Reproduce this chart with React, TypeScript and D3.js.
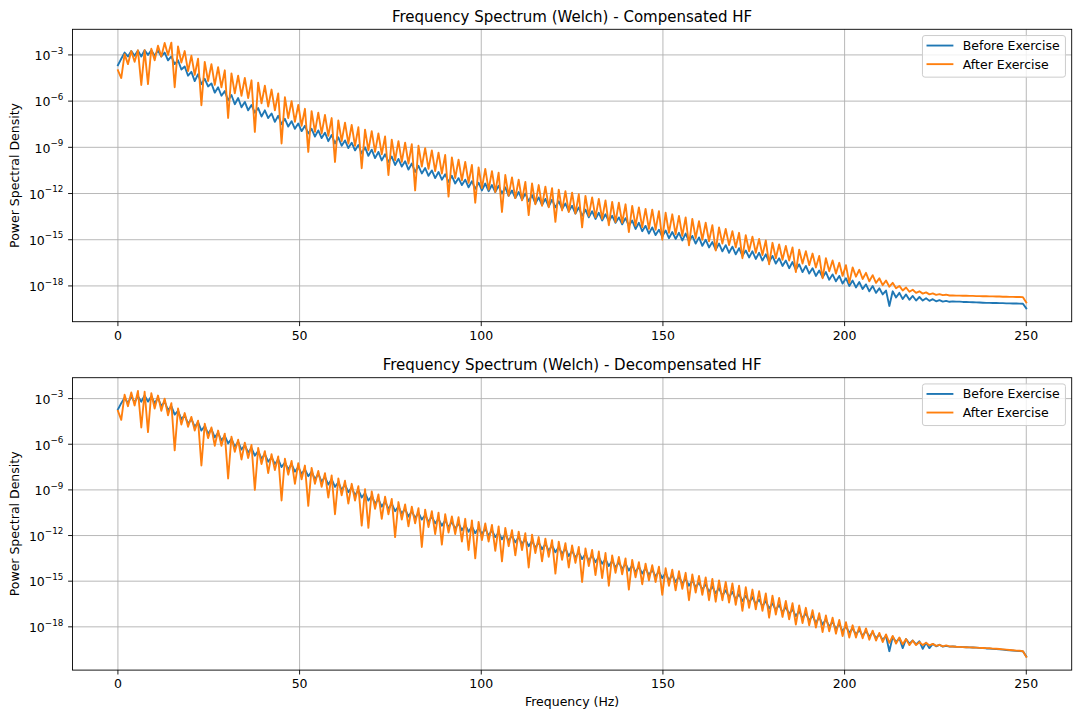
import React, { useEffect } from "react";
import * as d3 from "d3";

// ---------- DATA (log10 of PSD, evenly spaced Welch bins from 0 to 250 Hz) ----------
const FREQ_MAX = 250;

const compBeforeLog10 = [
  -3.67, -3.25, -2.85, -3.1, -2.75, -3.05, -2.72, -3.1, -2.7, -3.0,
  -2.7, -3.05, -2.72, -3.1, -2.85, -3.35, -3.1, -3.6, -3.35, -3.95,
  -3.75, -4.35, -4.1, -4.7, -4.25, -4.9, -4.55, -5.05, -4.85, -5.45,
  -5.1, -5.65, -5.35, -5.95, -5.6, -6.2, -5.8, -6.4, -6.05, -6.6,
  -6.25, -6.75, -6.45, -7.0, -6.6, -7.1, -6.8, -7.35, -6.95, -7.5,
  -7.15, -7.65, -7.3, -7.8, -7.45, -7.95, -7.6, -8.1, -7.8, -8.3,
  -7.9, -8.4, -8.05, -8.6, -8.2, -8.75, -8.35, -8.9, -8.55, -9.05,
  -8.7, -9.2, -8.85, -9.4, -9.0, -9.55, -9.15, -9.7, -9.3, -9.85,
  -9.45, -9.95, -9.6, -10.15, -9.75, -10.25, -9.9, -10.45, -10.05, -10.6,
  -10.2, -10.7, -10.35, -10.85, -10.5, -11.0, -10.6, -11.1, -10.75, -11.25,
  -10.85, -11.35, -11.0, -11.45, -11.1, -11.6, -11.2, -11.7, -11.3, -11.8,
  -11.35, -11.85, -11.45, -11.9, -11.5, -12.0, -11.6, -12.15, -11.8, -12.3,
  -11.9, -12.4, -12.0, -12.5, -12.1, -12.65, -12.25, -12.75, -12.35, -12.85,
  -12.4, -12.9, -12.5, -13.0, -12.65, -13.15, -12.8, -13.3, -12.9, -13.45,
  -13.05, -13.55, -13.15, -13.65, -13.25, -13.75, -13.35, -13.8, -13.45, -13.9,
  -13.55, -14.0, -13.6, -14.1, -13.75, -14.3, -13.9, -14.45, -14.1, -14.6,
  -14.2, -14.7, -14.35, -14.8, -14.4, -14.9, -14.5, -14.95, -14.55, -15.05,
  -14.6, -15.1, -14.75, -15.25, -14.85, -15.4, -15.0, -15.5, -15.15, -15.65,
  -15.25, -15.75, -15.35, -15.85, -15.45, -15.95, -15.55, -16.05, -15.7, -16.15,
  -15.75, -16.25, -15.85, -16.35, -15.95, -16.45, -16.05, -16.55, -16.2, -16.7,
  -16.35, -16.85, -16.45, -16.95, -16.6, -17.1, -16.7, -17.2, -16.85, -17.35,
  -17.0, -17.45, -17.1, -17.6, -17.25, -17.7, -17.35, -17.85, -17.5, -18.0,
  -17.65, -18.1, -17.75, -18.2, -17.9, -18.35, -18.0, -18.45, -18.15, -18.55,
  -18.3, -19.3, -18.35, -18.75, -18.45, -18.85, -18.55, -18.9, -18.65, -18.95,
  -18.72, -18.95, -18.8, -18.97, -18.86, -19.0, -18.92, -19.02, -18.97, -19.03,
  -19.0, -19.02, -19.02, -19.04, -19.04, -19.05, -19.06, -19.07, -19.08, -19.09,
  -19.1, -19.1, -19.11, -19.11, -19.12, -19.12, -19.13, -19.13, -19.14, -19.14,
  -19.15, -19.16, -19.46,
];

const compAfterLog10 = [
  -4.0, -4.5, -2.95, -3.6, -2.75, -3.45, -2.7, -4.95, -2.7, -4.9,
  -2.6, -3.35, -2.4, -3.1, -2.22, -3.0, -2.2, -5.1, -2.45, -3.5,
  -2.75, -4.05, -3.05, -4.3, -3.25, -6.27, -3.45, -4.7, -3.6, -4.95,
  -3.8, -5.1, -4.0, -7.1, -4.2, -5.5, -4.35, -5.65, -4.5, -5.8,
  -4.65, -8.0, -4.8, -6.15, -5.0, -6.35, -5.25, -6.6, -5.5, -8.75,
  -5.75, -7.1, -6.0, -7.35, -6.25, -7.6, -6.5, -9.3, -6.65, -8.0,
  -6.75, -8.1, -6.9, -8.25, -7.1, -9.95, -7.25, -8.6, -7.4, -8.75,
  -7.55, -8.9, -7.7, -10.36, -7.85, -9.2, -7.95, -9.3, -8.1, -9.45,
  -8.3, -10.8, -8.5, -9.85, -8.6, -9.95, -8.7, -10.05, -8.8, -11.8,
  -8.9, -10.25, -9.05, -10.4, -9.2, -10.55, -9.35, -10.7, -9.5, -12.2,
  -9.65, -11.0, -9.8, -11.15, -9.95, -11.3, -10.15, -12.6, -10.3, -11.65,
  -10.4, -11.75, -10.55, -11.9, -10.65, -13.2, -10.8, -12.15, -10.95, -12.3,
  -11.1, -12.45, -11.25, -13.4, -11.35, -12.7, -11.45, -12.8, -11.55, -12.9,
  -11.65, -13.84, -11.75, -13.1, -11.85, -13.2, -11.95, -13.3, -12.05, -14.2,
  -12.15, -13.45, -12.25, -13.55, -12.35, -13.65, -12.45, -14.06, -12.55, -13.85,
  -12.6, -13.9, -12.7, -14.5, -12.8, -14.1, -12.9, -14.2, -13.0, -14.3,
  -13.05, -14.35, -13.15, -15.0, -13.25, -14.55, -13.35, -14.65, -13.45, -14.75,
  -13.55, -15.36, -13.65, -14.9, -13.8, -15.0, -13.9, -15.1, -14.05, -15.7,
  -14.2, -15.25, -14.3, -15.35, -14.45, -15.5, -14.55, -16.2, -14.7, -15.75,
  -14.8, -15.85, -14.95, -16.0, -15.05, -16.6, -15.2, -16.2, -15.3, -16.3,
  -15.4, -16.35, -15.5, -17.1, -15.65, -16.55, -15.75, -16.65, -15.9, -16.8,
  -16.05, -17.5, -16.2, -17.05, -16.35, -17.2, -16.5, -17.35, -16.65, -17.8,
  -16.8, -17.4, -16.95, -17.55, -17.15, -17.7, -17.3, -17.8, -17.5, -17.95,
  -17.65, -18.05, -17.8, -18.15, -18.0, -18.3, -18.1, -18.38, -18.25, -18.45,
  -18.35, -18.5, -18.42, -18.55, -18.48, -18.58, -18.53, -18.6, -18.57, -18.62,
  -18.61, -18.63, -18.63, -18.64, -18.64, -18.65, -18.65, -18.66, -18.66, -18.67,
  -18.67, -18.68, -18.68, -18.69, -18.69, -18.7, -18.7, -18.71, -18.71, -18.72,
  -18.72, -18.73, -19.07,
];

const decompBeforeLog10 = [
  -3.72, -3.3, -2.95, -3.3, -2.85, -3.25, -2.85, -3.2, -2.8, -3.2,
  -2.85, -3.3, -2.95, -3.5, -3.2, -3.75, -3.5, -4.05, -3.8, -4.35,
  -4.1, -4.65, -4.35, -4.85, -4.55, -5.1, -4.8, -5.3, -5.0, -5.55,
  -5.25, -5.75, -5.45, -5.95, -5.65, -6.15, -5.85, -6.35, -6.05, -6.55,
  -6.25, -6.75, -6.45, -6.95, -6.65, -7.15, -6.85, -7.3, -7.0, -7.5,
  -7.2, -7.65, -7.3, -7.8, -7.5, -7.95, -7.65, -8.1, -7.8, -8.3,
  -7.95, -8.45, -8.15, -8.65, -8.3, -8.8, -8.5, -9.0, -8.65, -9.15,
  -8.85, -9.35, -9.0, -9.5, -9.2, -9.7, -9.4, -9.9, -9.6, -10.1,
  -9.75, -10.25, -9.9, -10.4, -10.1, -10.55, -10.25, -10.75, -10.4, -10.85,
  -10.5, -10.95, -10.65, -11.1, -10.75, -11.2, -10.9, -11.35, -11.0, -11.45,
  -11.1, -11.55, -11.2, -11.65, -11.3, -11.75, -11.4, -11.85, -11.5, -11.9,
  -11.55, -12.0, -11.65, -12.1, -11.8, -12.25, -11.9, -12.35, -12.0, -12.45,
  -12.1, -12.55, -12.25, -12.7, -12.35, -12.8, -12.45, -12.9, -12.55, -13.0,
  -12.65, -13.1, -12.75, -13.2, -12.85, -13.35, -13.0, -13.45, -13.1, -13.55,
  -13.2, -13.65, -13.3, -13.75, -13.4, -13.85, -13.55, -14.0, -13.65, -14.1,
  -13.75, -14.2, -13.85, -14.3, -13.95, -14.4, -14.05, -14.5, -14.15, -14.6,
  -14.25, -14.7, -14.35, -14.8, -14.45, -14.95, -14.6, -15.05, -14.7, -15.15,
  -14.85, -15.3, -14.95, -15.4, -15.1, -15.55, -15.2, -15.7, -15.35, -15.8,
  -15.45, -15.95, -15.6, -16.05, -15.7, -16.2, -15.85, -16.3, -15.95, -16.4,
  -16.05, -16.5, -16.2, -16.65, -16.3, -16.8, -16.45, -16.9, -16.55, -17.05,
  -16.7, -17.15, -16.85, -17.3, -16.95, -17.45, -17.1, -17.6, -17.25, -17.75,
  -17.35, -17.85, -17.5, -18.0, -17.65, -18.15, -17.8, -18.3, -17.95, -18.4,
  -18.1, -18.5, -18.2, -18.6, -18.25, -18.65, -18.35, -18.75, -18.5, -18.85,
  -18.6, -19.6, -18.65, -19.0, -18.75, -19.4, -18.8, -19.1, -18.9, -19.15,
  -18.95, -19.45, -19.05, -19.4, -19.12, -19.28, -19.18, -19.3, -19.25, -19.3,
  -19.29, -19.31, -19.32, -19.33, -19.34, -19.35, -19.36, -19.37, -19.38, -19.39,
  -19.42, -19.43, -19.45, -19.46, -19.48, -19.5, -19.52, -19.54, -19.56, -19.58,
  -19.59, -19.61, -19.95,
];

const decompAfterLog10 = [
  -3.8, -4.4, -2.75, -3.5, -2.6, -3.45, -2.5, -4.9, -2.55, -5.2,
  -2.65, -3.65, -2.8, -3.8, -3.0, -4.1, -3.3, -6.4, -3.65, -4.7,
  -3.95, -4.85, -4.2, -5.1, -4.45, -7.4, -4.65, -5.6, -4.9, -6.1,
  -5.1, -6.1, -5.3, -8.25, -5.5, -6.5, -5.7, -7.0, -5.9, -6.9,
  -6.05, -9.0, -6.25, -7.3, -6.45, -7.9, -6.65, -7.7, -6.8, -9.7,
  -6.95, -8.0, -7.1, -8.6, -7.25, -8.3, -7.4, -10.05, -7.55, -8.6,
  -7.75, -8.8, -7.9, -9.5, -8.05, -10.6, -8.25, -9.35, -8.4, -9.9,
  -8.6, -9.7, -8.75, -11.35, -8.95, -11.5, -9.1, -10.25, -9.3, -10.9,
  -9.45, -10.6, -9.6, -12.1, -9.8, -10.95, -9.95, -11.4, -10.1, -11.2,
  -10.2, -12.75, -10.3, -11.45, -10.4, -11.9, -10.5, -12.6, -10.6, -11.8,
  -10.75, -11.9, -10.8, -12.4, -10.9, -12.95, -11.0, -13.5, -11.1, -12.3,
  -11.2, -12.4, -11.3, -13.0, -11.4, -13.7, -11.5, -12.7, -11.65, -13.3,
  -11.75, -12.95, -11.85, -14.1, -11.95, -13.15, -12.1, -13.7, -12.2, -13.4,
  -12.3, -14.5, -12.4, -13.6, -12.5, -14.1, -12.65, -13.8, -12.75, -15.05,
  -12.85, -14.0, -12.95, -14.6, -13.05, -14.8, -13.15, -15.3, -13.3, -14.45,
  -13.4, -14.55, -13.5, -15.55, -13.6, -14.75, -13.75, -15.2, -13.85, -14.95,
  -13.95, -15.05, -14.05, -15.9, -14.15, -15.3, -14.25, -15.6, -14.35, -15.5,
  -14.45, -16.25, -14.55, -15.75, -14.65, -15.9, -14.75, -16.25, -14.85, -16.35,
  -14.95, -16.25, -15.05, -16.4, -15.15, -16.55, -15.3, -16.95, -15.4, -16.75,
  -15.55, -16.85, -15.65, -16.95, -15.8, -17.4, -15.95, -17.2, -16.1, -17.35,
  -16.3, -17.5, -16.45, -17.85, -16.6, -17.75, -16.75, -17.9, -16.9, -18.05,
  -17.1, -18.35, -17.25, -18.3, -17.4, -18.45, -17.55, -18.6, -17.7, -18.7,
  -17.9, -18.7, -18.0, -18.75, -18.1, -18.85, -18.25, -18.9, -18.4, -19.0,
  -18.5, -19.05, -18.6, -19.1, -18.7, -19.15, -18.8, -19.2, -18.9, -19.2,
  -19.0, -19.2, -19.05, -19.22, -19.12, -19.25, -19.18, -19.28, -19.22, -19.29,
  -19.29, -19.31, -19.32, -19.33, -19.34, -19.35, -19.36, -19.37, -19.38, -19.39,
  -19.4, -19.41, -19.43, -19.44, -19.46, -19.48, -19.5, -19.52, -19.54, -19.56,
  -19.57, -19.6, -19.97,
];

const X_TICKS = [0, 50, 100, 150, 200, 250];
const Y_TICK_EXPONENTS = [-3, -6, -9, -12, -15, -18];
const SERIES_LABELS = ["Before Exercise", "After Exercise"];
const SERIES_COLORS = ["#1f77b4", "#ff7f0e"];
const PANEL_TITLES = [
  "Frequency Spectrum (Welch) - Compensated HF",
  "Frequency Spectrum (Welch) - Decompensated HF",
];
const X_LABEL = "Frequency (Hz)";
const Y_LABEL = "Power Spectral Density";

// ---------- LAYOUT ----------
const W = 1080;
const H = 718;
const AX_LEFT = 72.5;
const AX_RIGHT = 1071.7;
const AX_H = 292.4;
const PANEL_TOPS = [29.3, 377.7];
const FONT = "'DejaVu Sans', 'Liberation Sans', sans-serif";
const FS = 12.5;

type PanelProps = {
  idx: number;
  top: number;
  title: string;
  before: number[];
  after: number[];
  showXLabel: boolean;
};

function Panel({ idx, top, title, before, after, showXLabel }: PanelProps) {
  const bottom = top + AX_H;
  const n = before.length;
  const freqs = d3.range(n).map((i) => (i * FREQ_MAX) / (n - 1));

  const fExt = [0, FREQ_MAX];
  const fPad = (fExt[1] - fExt[0]) * 0.05;
  const x = d3
    .scaleLinear()
    .domain([fExt[0] - fPad, fExt[1] + fPad])
    .range([AX_LEFT, AX_RIGHT]);

  const all = before.concat(after);
  const lo = d3.min(all) as number;
  const hi = d3.max(all) as number;
  const pad = (hi - lo) * 0.05;
  const y = d3
    .scaleLog()
    .domain([Math.pow(10, lo - pad), Math.pow(10, hi + pad)])
    .range([bottom, top]);

  const line = d3
    .line<number>()
    .x((_, i) => x(freqs[i]))
    .y((v) => y(Math.pow(10, v)));

  const series = [before, after];
  const clipId = `clip-${idx}`;

  const legW = 143;
  const legH = 41.6;
  const legX = AX_RIGHT - 6.25 - legW;
  const legY = top + 6.25;

  return (
    <g>
      <defs>
        <clipPath id={clipId}>
          <rect x={AX_LEFT} y={top} width={AX_RIGHT - AX_LEFT} height={AX_H} />
        </clipPath>
      </defs>
      <g stroke="#b0b0b0" strokeWidth={0.9}>
        {X_TICKS.map((t) => (
          <line key={`gx${t}`} x1={x(t)} x2={x(t)} y1={top} y2={bottom} />
        ))}
        {Y_TICK_EXPONENTS.map((e) => (
          <line
            key={`gy${e}`}
            x1={AX_LEFT}
            x2={AX_RIGHT}
            y1={y(Math.pow(10, e))}
            y2={y(Math.pow(10, e))}
          />
        ))}
      </g>
      <g clipPath={`url(#${clipId})`}>
        {series.map((s, k) => (
          <path
            key={k}
            d={line(s) || ""}
            fill="none"
            stroke={SERIES_COLORS[k]}
            strokeWidth={1.875}
            strokeLinejoin="round"
            strokeLinecap="square"
          />
        ))}
      </g>
      <rect
        x={AX_LEFT}
        y={top}
        width={AX_RIGHT - AX_LEFT}
        height={AX_H}
        fill="none"
        stroke="#000"
        strokeWidth={0.9}
      />
      <g fontFamily={FONT} fontSize={FS} fill="#000">
        {X_TICKS.map((t) => (
          <g key={`xt${t}`}>
            <line x1={x(t)} x2={x(t)} y1={bottom} y2={bottom + 4.4} stroke="#000" strokeWidth={0.9} />
            <text x={x(t)} y={bottom + 18.3} textAnchor="middle">
              {String(t)}
            </text>
          </g>
        ))}
        {Y_TICK_EXPONENTS.map((e) => {
          const yy = y(Math.pow(10, e));
          return (
            <g key={`yt${e}`}>
              <line x1={AX_LEFT - 4.4} x2={AX_LEFT} y1={yy} y2={yy} stroke="#000" strokeWidth={0.9} />
              <text x={AX_LEFT - 9.2} y={yy + 5.3} textAnchor="end">
                <tspan>10</tspan>
                <tspan dy={-6.6} fontSize={8.75}>
                  {"\u2212" + String(Math.abs(e))}
                </tspan>
              </text>
            </g>
          );
        })}
      </g>
      <text
        x={(AX_LEFT + AX_RIGHT) / 2}
        y={top - 7.5}
        textAnchor="middle"
        fontFamily={FONT}
        fontSize={15}
        fill="#000"
      >
        {title}
      </text>
      <text
        transform={`translate(18.5, ${top + AX_H / 2}) rotate(-90)`}
        textAnchor="middle"
        fontFamily={FONT}
        fontSize={FS}
        fill="#000"
      >
        {Y_LABEL}
      </text>
      {showXLabel && (
        <text
          x={(AX_LEFT + AX_RIGHT) / 2}
          y={bottom + 36}
          textAnchor="middle"
          fontFamily={FONT}
          fontSize={FS}
          fill="#000"
        >
          {X_LABEL}
        </text>
      )}
      <g>
        <rect
          x={legX}
          y={legY}
          width={legW}
          height={legH}
          rx={2.5}
          ry={2.5}
          fill="#ffffff"
          fillOpacity={0.8}
          stroke="#cccccc"
          strokeWidth={1}
        />
        {SERIES_LABELS.map((lab, k) => {
          const ly = legY + 10 + k * 18.6;
          return (
            <g key={lab}>
              <line
                x1={legX + 5}
                x2={legX + 30}
                y1={ly}
                y2={ly}
                stroke={SERIES_COLORS[k]}
                strokeWidth={1.875}
                strokeLinecap="square"
              />
              <text x={legX + 40.3} y={ly + 4.5} fontFamily={FONT} fontSize={FS} fill="#000">
                {lab}
              </text>
            </g>
          );
        })}
      </g>
    </g>
  );
}

export default function App() {
  useEffect(() => {
    document.body.style.margin = "0";
  }, []);
  const panels = [
    { before: compBeforeLog10, after: compAfterLog10 },
    { before: decompBeforeLog10, after: decompAfterLog10 },
  ];
  return (
    <div style={{ position: "absolute", left: 0, top: 0 }}>
      <svg width={W} height={H} viewBox={`0 0 ${W} ${H}`} xmlns="http://www.w3.org/2000/svg">
        <rect x={0} y={0} width={W} height={H} fill="#ffffff" />
        {panels.map((p, i) => (
          <Panel
            key={i}
            idx={i}
            top={PANEL_TOPS[i]}
            title={PANEL_TITLES[i]}
            before={p.before}
            after={p.after}
            showXLabel={i === 1}
          />
        ))}
      </svg>
    </div>
  );
}
